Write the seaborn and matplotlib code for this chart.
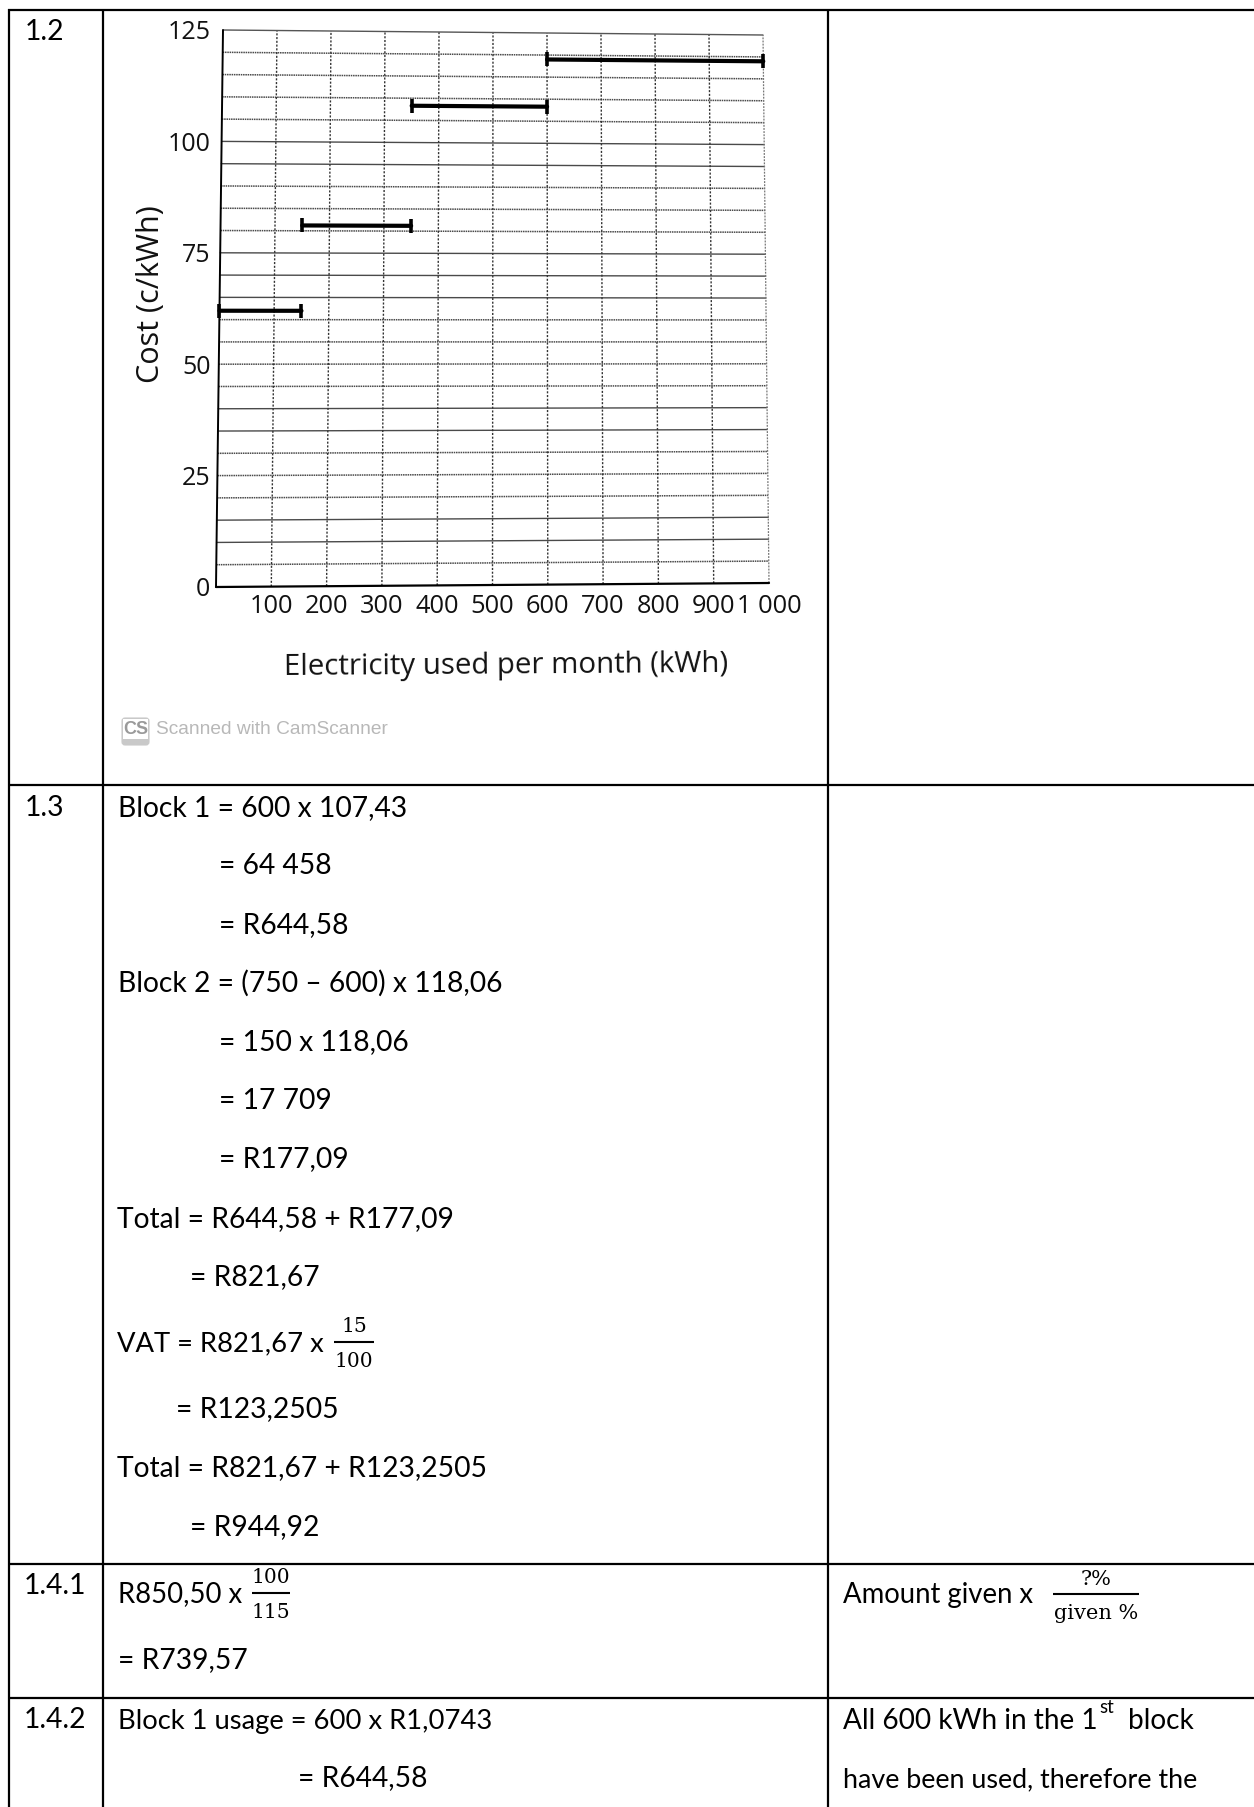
import numpy as np
import pandas as pd
import matplotlib
matplotlib.use('Agg')
import matplotlib.pyplot as plt
import seaborn as sns
from matplotlib.patches import FancyBboxPatch, Rectangle
from matplotlib.transforms import Transform

# block tariff values
block_start = [0, 150, 350, 600]
block_end = [150, 350, 600, 1000]
block_cost = [62.0, 81.2, 108.3, 119.0]

x_ticks = [100, 200, 300, 400, 500, 600, 700, 800, 900, 1000]
x_labels = ['100', '200', '300', '400', '500', '600', '700', '800', '900', '1 000']
y_ticks = [0, 25, 50, 75, 100, 125]
grid_x = [100, 200, 300, 400, 500, 600, 700, 800, 900]
grid_solid = [100, 95, 75, 70, 65, 40, 35, 15, 10]
grid_dotted = [120, 115, 110, 105, 90, 85, 80, 60, 55, 50, 45, 30, 25, 20, 5]

W, H = 1254, 1807
BOX = (216, 769, 30, 587)  # left, right, top, bottom in image pixels
# the scanned graph is not square, corners in image pixels
CORNERS = {'bl': (216, 587), 'br': (769, 583), 'tl': (223, 30), 'tr': (763, 35)}

sns.set_theme(style='white')
plt.rcParams['font.family'] = ['Lato', 'DejaVu Sans']

fig = plt.figure(figsize=(W / 100, H / 100), dpi=100, facecolor='white')


class Keystone(Transform):
    """Takes the straight axes box to the skewed box of the scan"""
    input_dims = 2
    output_dims = 2
    is_affine = False

    def transform_non_affine(self, xy):
        xy = np.asarray(xy, dtype=float)
        u = (xy[:, 0] - BOX[0]) / (BOX[1] - BOX[0])
        v = (xy[:, 1] - (H - BOX[3])) / (BOX[3] - BOX[2])
        res = np.zeros_like(xy)
        for i, sign in enumerate([1, -1]):
            bl, br = CORNERS['bl'][i], CORNERS['br'][i]
            tl, tr = CORNERS['tl'][i], CORNERS['tr'][i]
            val = (1 - u) * (1 - v) * bl + u * (1 - v) * br + (1 - u) * v * tl + u * v * tr
            res[:, i] = val if sign == 1 else H - val
        return res


# ---- table underneath ----
tab = fig.add_axes([0, 0, 1, 1])
tab.set_xlim(0, W)
tab.set_ylim(H, 0)
tab.axis('off')

LW = 1.6
for y in [9.5, 785, 1564, 1698]:
    tab.plot([8, W], [y, y], color='black', lw=LW, solid_capstyle='butt')
for x in [8.5, 103, 828]:
    tab.plot([x, x], [9, H], color='black', lw=LW, solid_capstyle='butt')


def put(s, x, y, size=20.3):
    tab.text(x, y, s, fontsize=size, color='black', va='baseline', ha='left')


def frac(top, bottom, x0, x1, bar_y, top_y, bottom_y, size=14.5):
    mid = (x0 + x1) / 2
    tab.plot([x0, x1], [bar_y, bar_y], color='black', lw=1.5, solid_capstyle='butt')
    tab.text(mid, top_y, top, fontsize=size, family='DejaVu Serif', ha='center', va='baseline', color='black')
    tab.text(mid, bottom_y, bottom, fontsize=size, family='DejaVu Serif', ha='center', va='baseline', color='black')


put('1.2', 25, 40)
put('1.3', 25, 816)
put('1.4.1', 24, 1594)
put('1.4.2', 24, 1728)

put('Block 1 = 600 x 107,43', 118, 816)
put('= 64 458', 219, 874)
put('= R644,58', 219, 933)
put('Block 2 = (750 – 600) x 118,06', 118, 992)
put('= 150 x 118,06', 219, 1050)
put('= 17 709', 219, 1109)
put('= R177,09', 219, 1167)
put('Total = R644,58 + R177,09', 117, 1227)
put('= R821,67', 190, 1285)
put('VAT = R821,67 x', 117, 1351, size=19.7)
frac('15', '100', 334, 374, 1342, 1332, 1367)
put('= R123,2505', 176, 1417)
put('Total = R821,67 + R123,2505', 117, 1476)
put('= R944,92', 190, 1535)

put('R850,50 x', 118, 1602, size=19.8)
frac('100', '115', 252, 290, 1593, 1583, 1618)
put('= R739,57', 118, 1668)
put('Block 1 usage = 600 x R1,0743', 118, 1729, size=19.7)
put('= R644,58', 298, 1786)

put('Amount given x', 843, 1603, size=19.8)
frac('?%', 'given %', 1053, 1139, 1594, 1585, 1619, size=15)
put('All 600 kWh in the 1', 843, 1729, size=20.2)
put('st', 1099, 1713, size=13.5)
put('block', 1128, 1729, size=20.2)
put('have been used, therefore the', 843, 1787, size=19.4)

# CamScanner stamp
tab.add_patch(FancyBboxPatch((122, 718), 27, 27, boxstyle='round,pad=0,rounding_size=3',
                             fc='#c9c9c9', ec='#c9c9c9', lw=0.8))
tab.add_patch(Rectangle((123, 719), 25, 20, fc='white', ec='none'))
tab.text(135.5, 729, 'CS', fontsize=13, fontweight='bold', family='Liberation Sans',
         color='#9a9a9a', ha='center', va='center')
tab.text(156, 730, 'Scanned with CamScanner', fontsize=13.8, family='Liberation Sans',
         color='#b8b8b8', ha='left', va='center')

# ---- graph on top ----
ax = fig.add_axes([BOX[0] / W, 1 - BOX[3] / H, (BOX[1] - BOX[0]) / W, (BOX[3] - BOX[2]) / H])
ax.patch.set_visible(False)
warp = ax.transData + Keystone()

GRID_COL = '#4a4a4a'
for y in grid_solid:
    ax.plot([0, 1000], [y, y], color=GRID_COL, lw=1.0, transform=warp, clip_on=False)
for y in grid_dotted:
    ax.plot([0, 1000], [y, y], color=GRID_COL, lw=1.1, ls=(0, (1, 0.5)), transform=warp, clip_on=False)
for x in grid_x:
    ax.plot([x, x], [0, 125], color='#333333', lw=1.0, ls=(0, (1.5, 1.2)), transform=warp, clip_on=False)

ax.plot([0, 1000], [125, 125], color='#555555', lw=1.0, transform=warp, clip_on=False)
ax.plot([0, 0], [0, 125], color='black', lw=1.4, transform=warp, clip_on=False)
ax.plot([1000, 1000], [0, 125], color='#777777', lw=0.9, ls=(0, (1.5, 1)), transform=warp, clip_on=False)
ax.plot([0, 1000], [0, 0], color='black', lw=1.6, transform=warp, clip_on=False)

segments = pd.DataFrame({
    'block': np.repeat(np.arange(len(block_cost)), 2),
    'x': np.ravel(np.column_stack([block_start, block_end])),
    'y': np.repeat(block_cost, 2),
})
sns.lineplot(data=segments, x='x', y='y', units='block', estimator=None, color='black',
             lw=3.0, marker='|', markersize=10, markeredgewidth=2.6, markeredgecolor='black',
             legend=False, ax=ax, transform=warp, clip_on=False)

ax.set_xlim(0, 1000)
ax.set_ylim(0, 125)
ax.set_xticks(x_ticks)
ax.set_xticklabels(x_labels, family='Open Sans', fontsize=18.3, color='#111111')
ax.set_yticks(y_ticks)
ax.set_yticklabels([str(v) for v in y_ticks], family='Open Sans', fontsize=18, color='#111111')
ax.tick_params(axis='both', length=0)
ax.tick_params(axis='x', pad=5)
ax.tick_params(axis='y', pad=4)
for s in ax.spines.values():
    s.set_visible(False)

ax.set_xlabel('Electricity used per month (kWh)', family='Open Sans', fontsize=21.2, color='#111111',
              va='center', rotation=0.4, rotation_mode='anchor')
ax.xaxis.set_label_coords(0.524, -0.142)
ax.set_ylabel('Cost (c/kWh)', family='Open Sans', fontsize=22, color='#111111', va='center')
ax.yaxis.set_label_coords(-0.117, 0.526)

fig.savefig('out.png', dpi=100, facecolor='white')
